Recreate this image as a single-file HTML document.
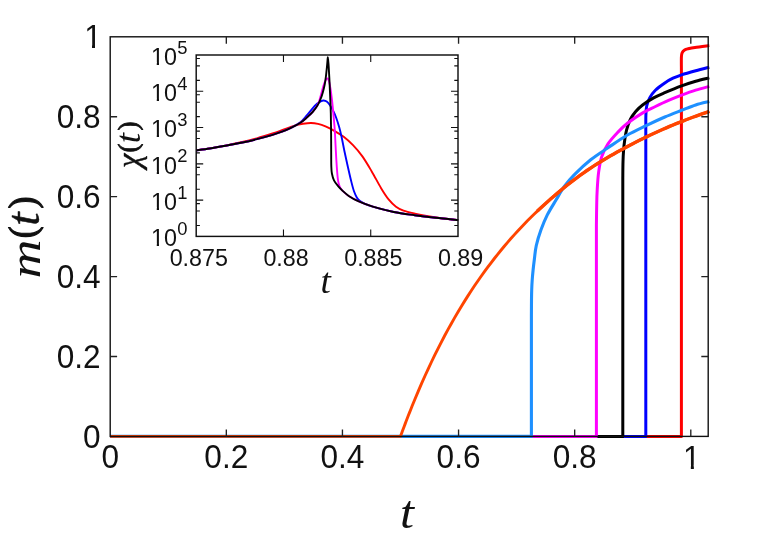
<!DOCTYPE html>
<html lang="en">
<head>
<meta charset="utf-8">
<title>m(t) versus t</title>
<style>
html,body{margin:0;padding:0;background:#ffffff;}
body{width:764px;height:535px;overflow:hidden;font-family:"Liberation Sans",sans-serif;}
svg{display:block;will-change:transform;}
</style>
</head>
<body>
<svg width="764" height="535" viewBox="0 0 764 535" role="img" aria-label="m(t) versus t for several models, with inset of susceptibility chi(t)">
<rect width="764" height="535" fill="#ffffff"/>
<g fill="none" stroke-width="3" stroke-linejoin="round" stroke-linecap="butt">
<path stroke="#ff0000" d="M110.2 436.4L681.4 436.4L681.4 70C681.4 67.83 681.27 59.9 681.4 57C681.53 54.1 681.67 53.77 682.2 52.6C682.73 51.43 683.63 50.63 684.6 50C685.57 49.37 686.27 49.23 688 48.8C689.73 48.37 691.45 47.93 695 47.4C698.55 46.87 706.92 45.9 709.3 45.6"/>
<path stroke="#0000ff" d="M110.2 436.4L645.8 436.4L645.8 125C645.82 123.33 645.75 118.17 645.9 115C646.05 111.83 646.05 108.9 646.7 106C647.35 103.1 648.35 100.23 649.8 97.6C651.25 94.97 652.9 92.65 655.4 90.2C657.9 87.75 661.87 84.9 664.8 82.9C667.73 80.9 670.2 79.55 673 78.2C675.8 76.85 677.82 76.05 681.6 74.8C685.38 73.55 691.08 71.97 695.7 70.7C700.32 69.43 707.03 67.78 709.3 67.2"/>
<path stroke="#000000" d="M110.2 436.4L622.8 436.4L622.8 178C622.83 175.33 622.87 166.67 623 162C623.13 157.33 623.3 153.75 623.6 150C623.9 146.25 624.3 142.87 624.8 139.5C625.3 136.13 625.68 133.13 626.6 129.8C627.52 126.47 628.78 122.55 630.3 119.5C631.82 116.45 633.65 113.92 635.7 111.5C637.75 109.08 639.62 107.27 642.6 105C645.58 102.73 649.9 99.95 653.6 97.9C657.3 95.85 660.13 94.7 664.8 92.7C669.47 90.7 676.45 87.8 681.6 85.9C686.75 84 691.08 82.63 695.7 81.3C700.32 79.97 707.03 78.47 709.3 77.9"/>
<path stroke="#ff00ff" d="M110.2 436.4L596.4 436.4L596.4 225C596.45 221.67 596.57 210.83 596.7 205C596.83 199.17 596.88 195.43 597.2 190C597.52 184.57 597.85 177.95 598.6 172.4C599.35 166.85 600.13 161.45 601.7 156.7C603.27 151.95 605.33 147.95 608 143.9C610.67 139.85 614.47 135.83 617.7 132.4C620.93 128.97 623.3 126.52 627.4 123.3C631.5 120.08 637.63 115.9 642.3 113.1C646.97 110.3 651.03 108.62 655.4 106.5C659.77 104.38 664.13 102.3 668.5 100.4C672.87 98.5 677.07 96.82 681.6 95.1C686.13 93.38 691.08 91.55 695.7 90.1C700.32 88.65 707.03 87.02 709.3 86.4"/>
<path stroke="#1e90ff" stroke-width="3.1" d="M110.2 436.4L531.4 436.4L531.4 315C531.42 312.5 531.45 304.17 531.5 300C531.55 295.83 531.58 293.33 531.7 290C531.82 286.67 531.97 283.33 532.2 280C532.43 276.67 532.73 273.5 533.1 270C533.47 266.5 533.87 263.08 534.4 259C534.93 254.92 535.2 250.37 536.3 245.5C537.4 240.63 539.17 234.9 541 229.8C542.83 224.7 544.8 219.87 547.3 214.9C549.8 209.93 553.13 204.78 556 200C558.87 195.22 561.47 190.4 564.5 186.2C567.53 182 569.83 179.2 574.2 174.8C578.57 170.4 585.07 164.3 590.7 159.8C596.33 155.3 601.88 151.93 608 147.8C614.12 143.67 621.05 138.7 627.4 135C633.75 131.3 639.87 128.6 646.1 125.6C652.33 122.6 658.88 119.55 664.8 117C670.72 114.45 676.45 112.32 681.6 110.3C686.75 108.28 691.08 106.38 695.7 104.9C700.32 103.42 707.03 101.98 709.3 101.4"/>
<path stroke="#ff4500" stroke-width="2.9" d="M110.2 436.4L400.5 436.4L400.79 435.6L401.66 433.22L402.53 430.86L403.4 428.51L404.27 426.19L405.14 423.88L406.02 421.59L406.89 419.32L407.76 417.07L408.63 414.83L409.5 412.61L410.37 410.41L411.24 408.23L412.11 406.06L415.01 398.96L418.32 391.08L421.63 383.43L424.93 376L428.24 368.78L431.55 361.75L434.85 354.92L438.16 348.28L441.47 341.82L444.77 335.53L448.08 329.4L451.39 323.44L454.69 317.64L458 311.99L461.31 306.48L464.61 301.12L467.92 295.89L471.23 290.79L474.53 285.82L477.84 280.98L481.15 276.26L484.45 271.65L487.76 267.15L491.07 262.77L494.37 258.49L497.68 254.31L500.99 250.23L504.29 246.25L507.6 242.36L510.91 238.56L514.21 234.85L517.52 231.22L520.83 227.68L524.13 224.21L527.44 220.83L530.75 217.51L534.05 214.27L537.36 211.1L540.66 207.99L543.97 204.95L547.28 201.96L550.58 199.03L553.89 196.16L557.2 193.34L560.5 190.57L563.81 187.86L567.12 185.2L570.42 182.6L573.73 180.06L577.04 177.58L580.34 175.16L583.65 172.81L586.96 170.52L590.26 168.29L593.57 166.13L596.88 164.02L600.18 161.96L603.49 159.95L606.8 157.98L610.1 156.05L613.41 154.16L616.72 152.3L620.02 150.47L623.33 148.66L626.64 146.89L629.94 145.14L633.25 143.43L636.56 141.74L639.86 140.08L643.17 138.45L646.48 136.85L649.78 135.27L653.09 133.73L656.39 132.21L659.7 130.73L663.01 129.27L666.31 127.83L669.62 126.42L672.93 125.04L676.23 123.69L679.54 122.35L682.85 121.05L686.15 119.76L689.46 118.5L692.77 117.26L696.07 116.04L699.38 114.85L702.69 113.67L705.99 112.52L709.3 111.38"/>
<path stroke="#ff4500" stroke-width="3.4" d="M537.36 211.1L540.66 207.99L543.97 204.95L547.28 201.96L550.58 199.03L553.89 196.16L557.2 193.34L560.5 190.57L563.81 187.86L567.12 185.2L570.42 182.6L573.73 180.06L577.04 177.58L580.34 175.16L583.65 172.81L586.96 170.52L590.26 168.29L593.57 166.13L596.88 164.02L600.18 161.96L603.49 159.95L606.8 157.98L610.1 156.05L613.41 154.16L616.72 152.3L620.02 150.47L623.33 148.66L626.64 146.89L629.94 145.14L633.25 143.43L636.56 141.74L639.86 140.08L643.17 138.45L646.48 136.85L649.78 135.27L653.09 133.73L656.39 132.21L659.7 130.73L663.01 129.27L666.31 127.83L669.62 126.42L672.93 125.04L676.23 123.69L679.54 122.35L682.85 121.05L686.15 119.76L689.46 118.5L692.77 117.26L696.07 116.04L699.38 114.85L702.69 113.67L705.99 112.52L709.3 111.38"/>
</g>
<g fill="none" stroke="#101010" stroke-width="1.4" stroke-linecap="butt">
<rect x="110.2" y="36.8" width="598" height="399.6"/>
<path stroke="#222222" stroke-width="1.35" d="M226.32 436.4v-6.9M226.32 36.8v6.9M342.44 436.4v-6.9M342.44 36.8v6.9M458.56 436.4v-6.9M458.56 36.8v6.9M574.68 436.4v-6.9M574.68 36.8v6.9M690.8 436.4v-6.9M690.8 36.8v6.9M110.2 356.48h6.9M708.2 356.48h-6.9M110.2 276.56h6.9M708.2 276.56h-6.9M110.2 196.64h6.9M708.2 196.64h-6.9M110.2 116.72h6.9M708.2 116.72h-6.9"/>
</g>
<rect x="196.2" y="55" width="261.8" height="181.4" fill="#ffffff"/>
<g fill="none" stroke-width="1.9" stroke-linejoin="round">
<path stroke="#ff0000" d="M196.4 150.3C198.62 149.98 204.87 149.18 209.7 148.4C214.53 147.62 220.17 146.62 225.4 145.6C230.63 144.58 235.87 143.52 241.1 142.3C246.33 141.08 251.57 139.77 256.8 138.3C262.03 136.83 268.3 134.85 272.5 133.5C276.7 132.15 278.85 131.33 282 130.2C285.15 129.07 288.9 127.58 291.4 126.7C293.9 125.82 295.07 125.4 297 124.9C298.93 124.4 300.67 124.02 303 123.7C305.33 123.38 308.5 122.97 311 123C313.5 123.03 315.58 123.33 318 123.9C320.42 124.47 322.78 125.25 325.5 126.4C328.22 127.55 331.27 129.07 334.3 130.8C337.33 132.53 340.58 134.4 343.7 136.8C346.82 139.2 349.88 141.93 353 145.2C356.12 148.47 359.28 152.03 362.4 156.4C365.52 160.77 368.58 166.1 371.7 171.4C374.82 176.7 378.28 183.53 381.1 188.2C383.92 192.87 386.12 196.32 388.6 199.4C391.08 202.48 393.52 204.83 396 206.7C398.48 208.57 400.35 209.45 403.5 210.6C406.65 211.75 410.82 212.67 414.9 213.6C418.98 214.53 423.65 215.43 428 216.2C432.35 216.97 435.97 217.55 441 218.2C446.03 218.85 455.33 219.78 458.2 220.1"/>
<path stroke="#0000ff" d="M196.4 150.3C198.62 150 204.87 149.25 209.7 148.5C214.53 147.75 220.17 146.75 225.4 145.8C230.63 144.85 235.87 143.9 241.1 142.8C246.33 141.7 251.57 140.52 256.8 139.2C262.03 137.88 268.3 136.15 272.5 134.9C276.7 133.65 278.85 132.92 282 131.7C285.15 130.48 288.33 129.18 291.4 127.6C294.47 126.02 297.92 124.13 300.4 122.2C302.88 120.27 304.27 118.32 306.3 116C308.33 113.68 310.77 110.37 312.6 108.3C314.43 106.23 315.87 104.8 317.3 103.6C318.73 102.4 320.15 101.62 321.2 101.1C322.25 100.58 322.68 100.42 323.6 100.5C324.52 100.58 325.67 100.85 326.7 101.6C327.73 102.35 328.75 103.52 329.8 105C330.85 106.48 331.95 108.42 333 110.5C334.05 112.58 335.05 114.67 336.1 117.5C337.15 120.33 338.38 124.25 339.3 127.5C340.22 130.75 340.75 133.08 341.6 137C342.45 140.92 343.35 146 344.4 151C345.45 156 346.75 161.9 347.9 167C349.05 172.1 350.28 177.55 351.3 181.6C352.32 185.65 353.08 188.67 354 191.3C354.92 193.93 355.8 195.8 356.8 197.4C357.8 199 358.72 199.87 360 200.9C361.28 201.93 362.37 202.63 364.5 203.6C366.63 204.57 367.92 205.3 372.8 206.7C377.68 208.1 386.82 210.58 393.8 212C400.78 213.42 407.72 214.23 414.7 215.2C421.68 216.17 428.45 216.98 435.7 217.8C442.95 218.62 454.45 219.72 458.2 220.1"/>
<path stroke="#ff00ff" d="M196.4 150.3C198.62 150 204.87 149.25 209.7 148.5C214.53 147.75 220.17 146.75 225.4 145.8C230.63 144.85 235.87 143.9 241.1 142.8C246.33 141.7 251.57 140.52 256.8 139.2C262.03 137.88 268.3 136.15 272.5 134.9C276.7 133.65 278.85 132.92 282 131.7C285.15 130.48 288.33 129.08 291.4 127.6C294.47 126.12 297.92 124.4 300.4 122.8C302.88 121.2 304.27 119.8 306.3 118C308.33 116.2 310.77 114.08 312.6 112C314.43 109.92 316.15 107.5 317.3 105.5C318.45 103.5 318.85 101.92 319.5 100C320.15 98.08 320.52 96.45 321.2 94C321.88 91.55 322.82 87.67 323.6 85.3C324.38 82.93 325.25 80.95 325.9 79.8C326.55 78.65 326.97 78.13 327.5 78.4C328.03 78.67 328.58 79.58 329.1 81.4C329.62 83.22 330.08 85.9 330.6 89.3C331.12 92.7 331.75 97.88 332.2 101.8C332.65 105.72 332.93 108.87 333.3 112.8C333.67 116.73 334.12 121.87 334.4 125.4C334.68 128.93 334.77 129.9 335 134C335.23 138.1 335.5 144.5 335.8 150C336.1 155.5 336.45 162.12 336.8 167C337.15 171.88 337.47 176.17 337.9 179.3C338.33 182.43 338.82 184.12 339.4 185.8C339.98 187.48 340.55 188.27 341.4 189.4C342.25 190.53 343.22 191.47 344.5 192.6C345.78 193.73 346.82 194.77 349.1 196.2C351.38 197.63 354.25 199.45 358.2 201.2C362.15 202.95 366.87 204.9 372.8 206.7C378.73 208.5 386.82 210.58 393.8 212C400.78 213.42 407.72 214.23 414.7 215.2C421.68 216.17 428.45 216.98 435.7 217.8C442.95 218.62 454.45 219.72 458.2 220.1"/>
<path stroke="#000000" d="M196.4 150.3C198.62 150 204.87 149.25 209.7 148.5C214.53 147.75 220.17 146.75 225.4 145.8C230.63 144.85 235.87 143.9 241.1 142.8C246.33 141.7 251.57 140.52 256.8 139.2C262.03 137.88 268.3 136.15 272.5 134.9C276.7 133.65 278.85 132.92 282 131.7C285.15 130.48 288.33 129.08 291.4 127.6C294.47 126.12 297.92 124.4 300.4 122.8C302.88 121.2 304.27 119.8 306.3 118C308.33 116.2 310.77 114.03 312.6 112C314.43 109.97 316 107.88 317.3 105.8C318.6 103.72 319.48 101.73 320.4 99.5C321.32 97.27 322.08 94.88 322.8 92.4C323.52 89.92 324.18 87.22 324.7 84.6C325.22 81.98 325.53 79.58 325.9 76.7C326.27 73.82 326.63 69.98 326.9 67.3C327.17 64.62 327.35 62.27 327.5 60.6C327.65 58.93 327.68 57.3 327.8 57.3C327.92 57.3 328.05 59.07 328.2 60.6C328.35 62.13 328.48 63.03 328.7 66.5C328.92 69.97 329.25 76.3 329.5 81.4C329.75 86.5 329.98 91.83 330.2 97.1C330.42 102.37 330.65 106.85 330.8 113C330.95 119.15 331.03 127 331.1 134C331.17 141 331.17 149.67 331.2 155C331.23 160.33 331.18 162.92 331.3 166C331.42 169.08 331.45 171.12 331.9 173.5C332.35 175.88 333 178.23 334 180.3C335 182.37 336.5 184.18 337.9 185.9C339.3 187.62 340.53 188.88 342.4 190.6C344.27 192.32 346.47 194.43 349.1 196.2C351.73 197.97 354.25 199.45 358.2 201.2C362.15 202.95 366.87 204.9 372.8 206.7C378.73 208.5 386.82 210.58 393.8 212C400.78 213.42 407.72 214.23 414.7 215.2C421.68 216.17 428.45 216.98 435.7 217.8C442.95 218.62 454.45 219.72 458.2 220.1"/>
</g>
<g fill="none" stroke="#101010" stroke-width="1.45">
<rect x="196.2" y="55" width="261.8" height="181.4"/>
<path stroke-width="1.1" d="M196.2 225.48h3.7M458 225.48h-3.7M196.2 211.04h3.7M458 211.04h-3.7M196.2 203.64h3.7M458 203.64h-3.7M196.2 200.12h7M458 200.12h-7M196.2 189.2h3.7M458 189.2h-3.7M196.2 174.76h3.7M458 174.76h-3.7M196.2 167.36h3.7M458 167.36h-3.7M196.2 163.84h7M458 163.84h-7M196.2 152.92h3.7M458 152.92h-3.7M196.2 138.48h3.7M458 138.48h-3.7M196.2 131.08h3.7M458 131.08h-3.7M196.2 127.56h7M458 127.56h-7M196.2 116.64h3.7M458 116.64h-3.7M196.2 102.2h3.7M458 102.2h-3.7M196.2 94.8h3.7M458 94.8h-3.7M196.2 91.28h7M458 91.28h-7M196.2 80.36h3.7M458 80.36h-3.7M196.2 65.92h3.7M458 65.92h-3.7M196.2 58.52h3.7M458 58.52h-3.7M283.47 236.4v-7M283.47 55v7M370.73 236.4v-7M370.73 55v7"/>
</g>
<defs>
<clipPath id="one-big"><rect x="-3" y="-32" width="26" height="28.5"/><rect x="7.8" y="-3.8" width="3.05" height="4.8"/></clipPath>
<clipPath id="one-small"><rect x="-3" y="-24" width="20" height="21.3"/><rect x="5.65" y="-3" width="2.27" height="4"/></clipPath>
</defs>
<g fill="#111111" style="font-family:'Liberation Sans',sans-serif;font-size:31.6px">
<text transform="translate(110.2 468.45) scale(1 1.077)" text-anchor="middle">0</text>
<text transform="translate(226.32 468.45) scale(1 1.077)" text-anchor="middle">0.2</text>
<text transform="translate(342.44 468.45) scale(1 1.077)" text-anchor="middle">0.4</text>
<text transform="translate(458.56 468.45) scale(1 1.077)" text-anchor="middle">0.6</text>
<text transform="translate(574.68 468.45) scale(1 1.077)" text-anchor="middle">0.8</text>
<g transform="translate(683.02 468.6) scale(1 1.065)" clip-path="url(#one-big)"><text>1</text></g>
<text transform="translate(100.6 447.7) scale(1 1.077)" text-anchor="end">0</text>
<text transform="translate(100.6 367.78) scale(1 1.077)" text-anchor="end">0.2</text>
<text transform="translate(100.6 287.86) scale(1 1.077)" text-anchor="end">0.4</text>
<text transform="translate(100.6 207.94) scale(1 1.077)" text-anchor="end">0.6</text>
<text transform="translate(100.6 128.02) scale(1 1.077)" text-anchor="end">0.8</text>
<g transform="translate(84.18 47.85) scale(1 1.065)" clip-path="url(#one-big)"><text>1</text></g>
</g>
<g fill="#111111" style="font-family:'Liberation Sans',sans-serif;font-size:23.3px">
<text x="198.8" y="265.5" text-anchor="middle">0.875</text>
<text x="286.07" y="265.5" text-anchor="middle">0.88</text>
<text x="373.33" y="265.5" text-anchor="middle">0.885</text>
<text x="460.6" y="265.5" text-anchor="middle">0.89</text>
<g transform="translate(151.1 246.3)" clip-path="url(#one-small)"><text>1</text></g>
<text x="164.05" y="246.3">0<tspan dy="-11.4" dx="0.3" style="font-size:18.4px">0</tspan></text>
<g transform="translate(151.1 210.02)" clip-path="url(#one-small)"><text>1</text></g>
<text x="164.05" y="210.02">0<tspan dy="-11.4" dx="0.3" style="font-size:18.4px">1</tspan></text>
<g transform="translate(151.1 173.74)" clip-path="url(#one-small)"><text>1</text></g>
<text x="164.05" y="173.74">0<tspan dy="-11.4" dx="0.3" style="font-size:18.4px">2</tspan></text>
<g transform="translate(151.1 137.46)" clip-path="url(#one-small)"><text>1</text></g>
<text x="164.05" y="137.46">0<tspan dy="-11.4" dx="0.3" style="font-size:18.4px">3</tspan></text>
<g transform="translate(151.1 101.18)" clip-path="url(#one-small)"><text>1</text></g>
<text x="164.05" y="101.18">0<tspan dy="-11.4" dx="0.3" style="font-size:18.4px">4</tspan></text>
<g transform="translate(151.1 64.9)" clip-path="url(#one-small)"><text>1</text></g>
<text x="164.05" y="64.9">0<tspan dy="-11.4" dx="0.3" style="font-size:18.4px">5</tspan></text>
</g>
<g fill="#111111" style="font-family:'Liberation Serif',serif;font-style:italic">
<text transform="translate(400.08 527.58) scale(1.064 1)" style="font-size:47.37px">t</text>
<text transform="translate(320.58 293.1) scale(1.060 1)" style="font-size:35.09px">t</text>
<text transform="translate(39.77 278.49) rotate(-90) scale(1.236 1)" style="font-size:43.66px">m</text>
<text transform="translate(35.42 238.13) rotate(-90) scale(0.938 1)" stroke="#111111" stroke-width="1.2" stroke-linejoin="round" style="font-size:38.22px;font-style:normal">(</text>
<text transform="translate(39.24 225.66) rotate(-90) scale(1.040 1)" stroke="#111111" stroke-width="0.5" stroke-linejoin="round" style="font-size:46.14px">t</text>
<text transform="translate(35.42 208.6) rotate(-90) scale(0.940 1)" stroke="#111111" stroke-width="1.2" stroke-linejoin="round" style="font-size:38.22px;font-style:normal">)</text>
<text transform="translate(139.5 168.02) rotate(-90) scale(0.975 1)" stroke="#111111" stroke-width="0.4" stroke-linejoin="round" style="font-size:33.58px">&#967;</text>
<text transform="translate(137.15 152.45) rotate(-90) scale(0.952 1)" stroke="#111111" stroke-width="0.9" stroke-linejoin="round" style="font-size:28.33px;font-style:normal">(</text>
<text transform="translate(140.2 143.27) rotate(-90) scale(1.050 1)" style="font-size:35.44px">t</text>
<text transform="translate(137.15 130.46) rotate(-90) scale(0.961 1)" stroke="#111111" stroke-width="0.9" stroke-linejoin="round" style="font-size:28.33px;font-style:normal">)</text>
</g>
</svg>
</body>
</html>
